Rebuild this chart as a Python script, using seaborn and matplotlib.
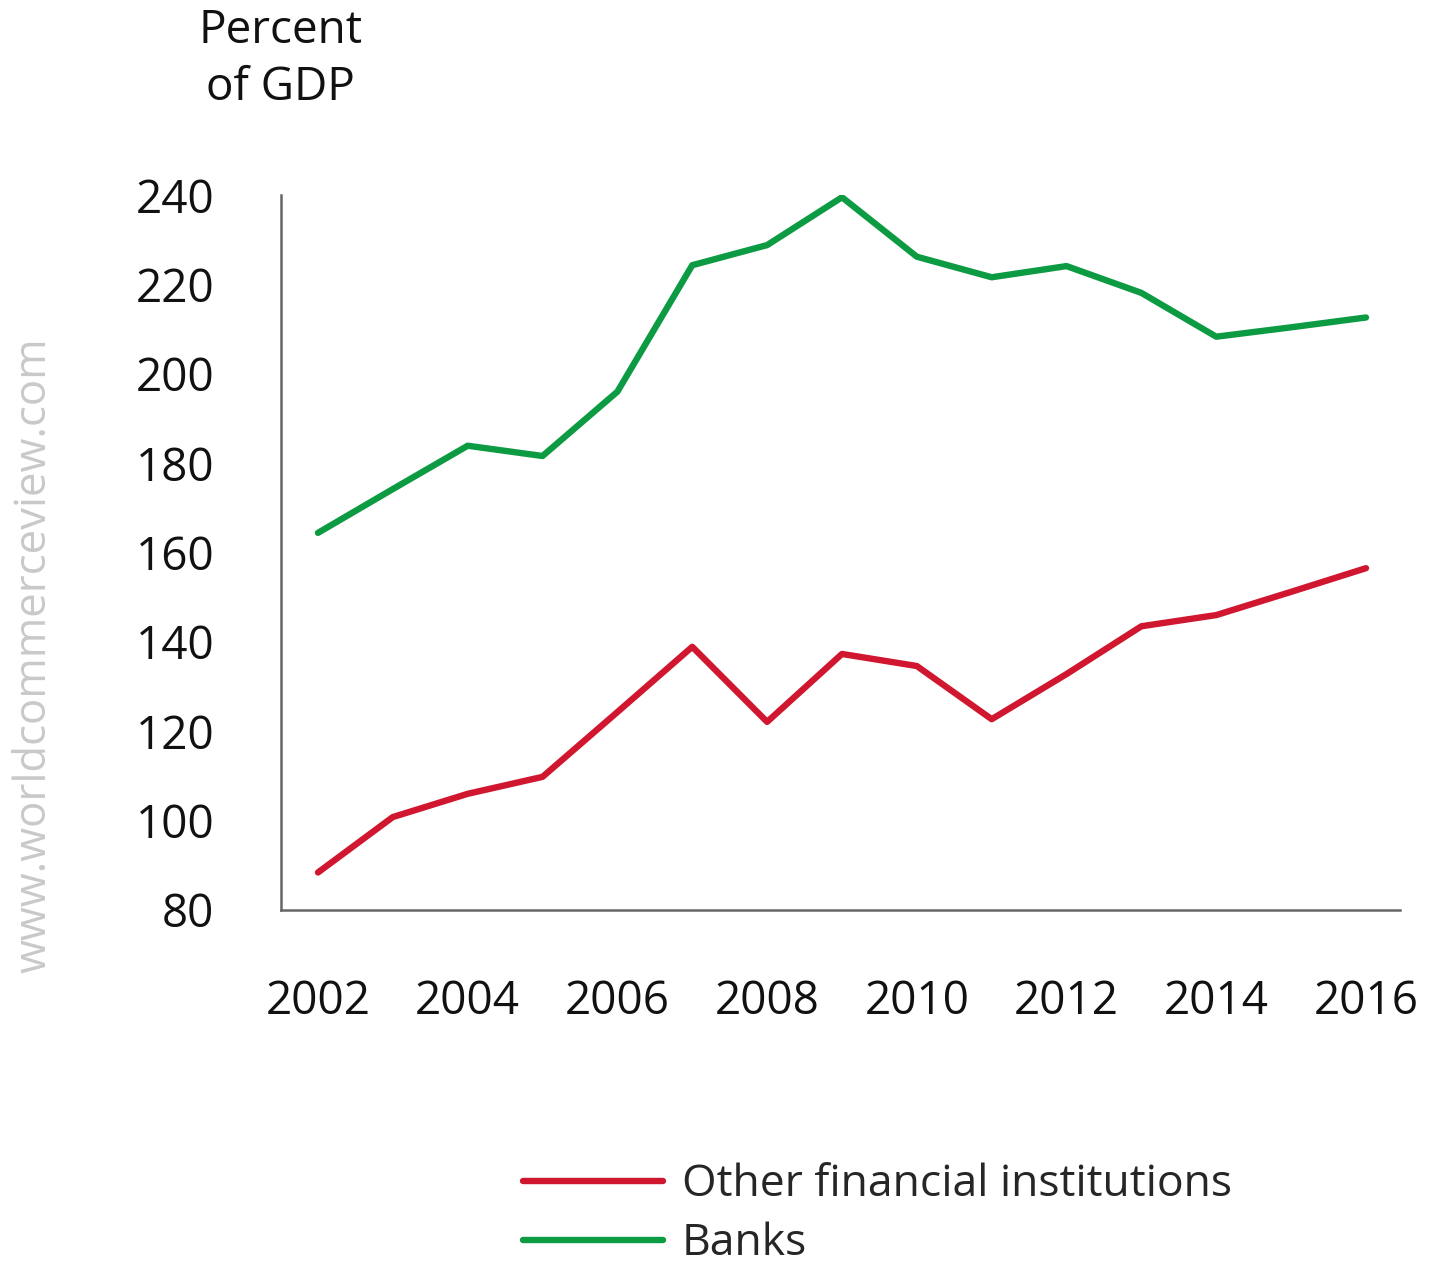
import matplotlib
matplotlib.use("Agg")
import matplotlib.pyplot as plt
import pandas as pd
import seaborn as sns

# Financial assets by sector, percent of GDP
years = list(range(2002, 2017))
banks = [164.4, 174.2, 183.9, 181.6, 196.0, 224.3, 228.8, 239.5,
         226.2, 221.6, 224.1, 218.1, 208.3, 210.4, 212.6]
other_fi = [88.4, 100.8, 106.0, 109.8, 124.3, 138.9, 122.1, 137.3,
            134.6, 122.7, 132.8, 143.5, 146.0, 151.2, 156.5]
series_names = ["Other financial institutions", "Banks"]
series_colors = {"Other financial institutions": "#d0172f", "Banks": "#0c9b42"}
y_ticks = [80, 100, 120, 140, 160, 180, 200, 220, 240]
x_ticks = [2002, 2004, 2006, 2008, 2010, 2012, 2014, 2016]

df = pd.concat([
    pd.DataFrame({"year": years, "value": other_fi, "sector": series_names[0]}),
    pd.DataFrame({"year": years, "value": banks, "sector": series_names[1]}),
])

sns.set_style("white")
plt.rcParams["font.family"] = ["Open Sans", "DejaVu Sans"]

fig = plt.figure(figsize=(14.30, 12.69), dpi=100)
ax = fig.add_axes([0.1965, 0.2829, 0.7825, 0.5634])

sns.lineplot(data=df, x="year", y="value", hue="sector", hue_order=series_names,
             palette=series_colors, linewidth=4.6, ax=ax, legend=False)

ax.set_xlim(2001.506, 2016.454)
ax.set_ylim(80, 240)
ax.set_xticks(x_ticks)
ax.set_yticks(y_ticks)
ax.set_xticklabels([str(t) for t in x_ticks])
ax.set_yticklabels([str(t) for t in y_ticks])
ax.set_xlabel("")
ax.set_ylabel("")
ax.tick_params(axis="both", length=0, labelsize=33, colors="#111111")
ax.tick_params(axis="y", pad=48)
ax.tick_params(axis="x", pad=50)

for side in ["top", "right"]:
    ax.spines[side].set_visible(False)
for side in ["left", "bottom"]:
    ax.spines[side].set_color("#666666")
    ax.spines[side].set_linewidth(1.8)

fig.text(0.196, 0.953, "Percent\nof GDP", ha="center", va="center",
         fontsize=33, color="#111111", linespacing=1.3)

fig.text(0.024, 0.484, "www.worldcommerceview.com", rotation=90,
         ha="center", va="center", fontsize=31.5, color="#c9c9c9")

handles = [plt.Line2D([], [], color=series_colors[n], linewidth=4.6) for n in series_names]
fig.legend(handles, series_names, loc="center left",
           bbox_to_anchor=(0.366, 0.043), frameon=False, fontsize=32,
           handlelength=3.15, handletextpad=0.42, labelspacing=0.33,
           borderpad=0, borderaxespad=0)

fig.savefig("out.png", dpi=100, facecolor="white")
